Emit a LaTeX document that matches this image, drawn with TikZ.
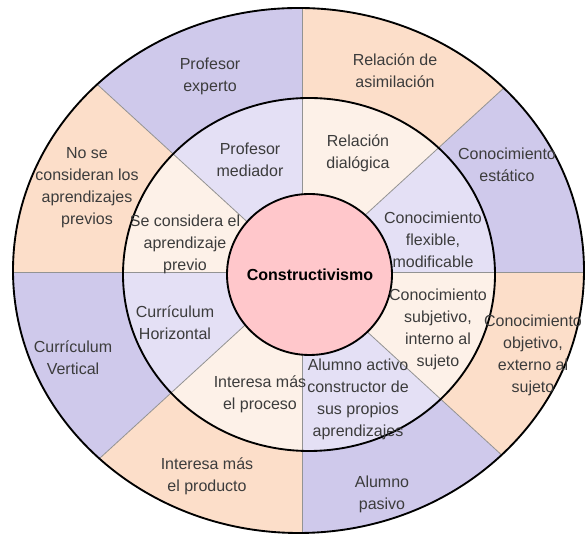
\documentclass[tikz,border=0pt]{standalone}
\usepackage{fontspec}
\setmainfont{Liberation Sans}
\usepackage{tikz}
\definecolor{outer purple}{HTML}{CFC9EB}
\definecolor{outer peach}{HTML}{FCDEC9}
\definecolor{inner purple}{HTML}{E4E0F5}
\definecolor{inner peach}{HTML}{FDF1E8}
\definecolor{core pink}{HTML}{FFC7CB}
\definecolor{label gray}{HTML}{3C3C3C}
\tikzset{
  label/.style={align=center, inner sep=0pt, text=label gray,
    font=\fontsize{12}{16.5}\selectfont},
  divider/.style={draw=gray!85, line width=0.6pt},
  ring/.style={draw=black, line width=1.4pt}
}

\begin{document}
\begin{tikzpicture}[x=0.75pt, y=0.75pt]
			\useasboundingbox (0,0) rectangle (587,535);
			\begin{scope}[shift={(302.5,262.5)}]
				% part for the sectors of both rings
				\foreach \a/\b/\oc/\ic in {90/137.5/outer purple/inner purple,
						137.5/180/outer peach/inner peach,
						180/222.5/outer purple/inner purple,
						222.5/270/outer peach/inner peach,
						270/317.5/outer purple/inner purple,
						317.5/360/outer peach/inner peach,
						0/42.5/outer purple/inner purple,
						42.5/90/outer peach/inner peach} {
					\begin{scope}
						\clip (0,0) -- (\a:800) -- ({(\a+\b)/2}:800) -- (\b:800) -- cycle;
						\fill[\oc] (-4,2) ellipse [x radius=285.5, y radius=262.5];
						\fill[\ic] (6.5,-2) ellipse [x radius=186, y radius=176.5];
					\end{scope}
				}
				% part for the dividers
				\begin{scope}
					\clip (-4,2) ellipse [x radius=285.5, y radius=262.5];
					\foreach \a in {0,42.5,90,137.5,180,222.5,270,317.5}
						\draw[divider] (0,0) -- (\a:400);
				\end{scope}
				% outline
				\draw[ring]
					(-4,2) ellipse [x radius=285.5, y radius=262.5]
					(6.5,-2) ellipse [x radius=186, y radius=176.5];
				\draw[ring, fill=core pink] (7,-2) ellipse [x radius=82.5, y radius=80.5];
			\end{scope}
			% labels of the outer ring
			\node[label] (expert) at (210,459) {Profesor\\experto};
			\node[label] (asimil) at (395,464) {Relación de\\asimilación};
			\node[label] (estatic) at (507,370) {Conocimiento\\estático};
			\node[label] (noprev) at (87,347) {No se\\consideran los\\aprendizajes\\previos};
			\node[label] (vertical) at (73,177) {Currículum\\Vertical};
			\node[label] (producto) at (207,59) {Interesa más\\el producto};
			\node[label] (pasivo) at (382,41) {Alumno\\pasivo};
			\node[label] (objetivo) at (533,180) {Conocimiento\\objetivo,\\externo al\\sujeto};
			% labels of the inner ring
			\node[label] (mediador) at (250,375) {Profesor\\mediador};
			\node[label] (dialog) at (358,382) {Relación\\dialógica};
			\node[label] (siprev) at (185,291) {Se considera el\\aprendizaje\\previo};
			\node[label] (flexible) at (433,295) {Conocimiento\\flexible,\\modificable};
			\node[label] (horizontal) at (175,212) {Currículum\\Horizontal};
			\node[label] (proceso) at (260,141) {Interesa más\\el proceso};
			\node[label] (activo) at (358,136) {Alumno activo\\constructor de\\sus propios\\aprendizajes};
			\node[label] (subjetivo) at (438,206) {Conocimiento\\subjetivo,\\interno al\\sujeto};
			% centre
			\node[label, text=black, font=\fontsize{12}{14}\selectfont\bfseries] (core) at (310,260) {Constructivismo};
		\end{tikzpicture}
\end{document}
